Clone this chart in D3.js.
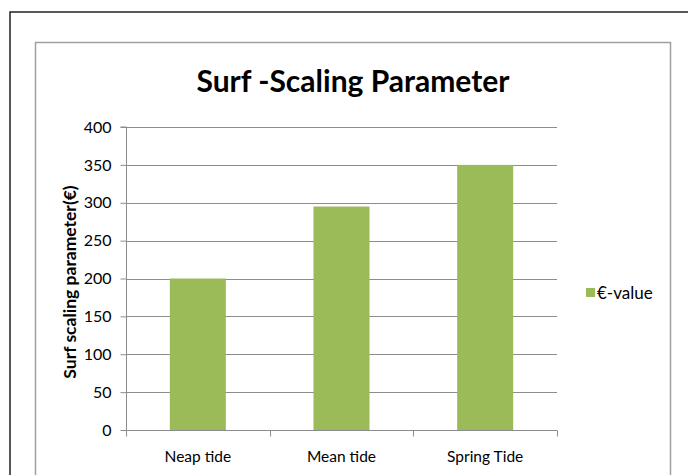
<!DOCTYPE html>
<html>
<head>
<meta charset="utf-8">
<script src="https://cdn.jsdelivr.net/npm/d3@7"></script>
<style>
  html, body { margin: 0; padding: 0; background: #fff; }
  svg { display: block; }
  text { font-family: Lato, "Open Sans", sans-serif; }
</style>
</head>
<body>
<script>
// Chart data
const categories = ["Neap tide", "Mean tide", "Spring Tide"];
const values = [200, 295, 350];
const yTicks = [0, 50, 100, 150, 200, 250, 300, 350, 400];
const seriesName = "€-value";
const chartTitle = "Surf -Scaling Parameter";
const yTitle = "Surf scaling parameter(€)";

const W = 688, H = 475;
const plot = { left: 126, right: 557, top: 127, bottom: 430 };
const barColor = "#9BBB59";

const svg = d3.select("body").append("svg").attr("width", W).attr("height", H);

// Outer frame
svg.append("rect").attr("x", 10).attr("y", 12).attr("width", 700).attr("height", 500)
  .attr("fill", "none").attr("stroke", "#222").attr("stroke-width", 1.5);

// Chart area frame
svg.append("rect").attr("x", 35.5).attr("y", 42.5).attr("width", 635).attr("height", 460)
  .attr("fill", "#fff").attr("stroke", "#a0a0a0").attr("stroke-width", 1.5);

const x = d3.scaleBand().domain(categories).range([plot.left, plot.right]).padding(0);
const y = d3.scaleLinear().domain([0, 400]).range([plot.bottom, plot.top]);

// Horizontal gridlines
svg.append("g").selectAll("line").data(yTicks.filter(d => d > 0)).join("line")
  .attr("x1", plot.left).attr("x2", plot.right)
  .attr("y1", d => Math.round(y(d)) + 0.5).attr("y2", d => Math.round(y(d)) + 0.5)
  .attr("stroke", "#8c8c8c").attr("stroke-width", 1);

// Bars
const barW = x.bandwidth() * 0.39;
svg.append("g").selectAll("rect").data(values).join("rect")
  .attr("x", (d, i) => x(categories[i]) + (x.bandwidth() - barW) / 2)
  .attr("width", barW)
  .attr("y", d => y(d))
  .attr("height", d => y(0) - y(d))
  .attr("fill", barColor);

// Y axis
const yAxis = d3.axisLeft(y).tickValues(yTicks).tickSize(6).tickPadding(9);
const gy = svg.append("g").attr("transform", `translate(${plot.left + 0.5},0)`).call(yAxis);
gy.select(".domain").attr("stroke", "#8c8c8c").attr("d", `M-6,${plot.top}H0V${plot.bottom}`);
gy.selectAll(".tick line").attr("stroke", "#8c8c8c");
gy.selectAll(".tick text").attr("font-size", 16).attr("fill", "#000")
  .attr("font-family", "Lato, 'Open Sans', sans-serif");

// X axis with ticks at category boundaries
const gx = svg.append("g").attr("transform", `translate(0,${plot.bottom + 0.5})`);
gx.append("line").attr("x1", plot.left).attr("x2", plot.right)
  .attr("stroke", "#8c8c8c");
const boundaries = categories.map(c => x(c)).concat([x(categories[categories.length - 1]) + x.bandwidth()]);
gx.selectAll(".bt").data(boundaries).join("line").attr("class", "bt")
  .attr("x1", d => Math.round(d) + 0.5).attr("x2", d => Math.round(d) + 0.5)
  .attr("y1", 0).attr("y2", 6).attr("stroke", "#8c8c8c");
gx.selectAll("text").data(categories).join("text")
  .attr("x", d => x(d) + x.bandwidth() / 2).attr("y", 31)
  .attr("text-anchor", "middle").attr("font-size", 15.5).attr("fill", "#000")
  .text(d => d);

// Title
svg.append("text").attr("x", 353).attr("y", 92).attr("text-anchor", "middle")
  .attr("font-size", 30).attr("font-weight", "bold").attr("fill", "#000")
  .text(chartTitle);

// Y axis title
svg.append("text").attr("transform", `translate(76,282) rotate(-90)`)
  .attr("text-anchor", "middle").attr("font-size", 17.5).attr("font-weight", "bold")
  .attr("fill", "#000").text(yTitle);

// Legend
svg.append("rect").attr("x", 586).attr("y", 288).attr("width", 9).attr("height", 9).attr("fill", barColor);
svg.append("text").attr("x", 597).attr("y", 299).attr("font-size", 17).attr("fill", "#000").text(seriesName);
</script>
</body>
</html>
